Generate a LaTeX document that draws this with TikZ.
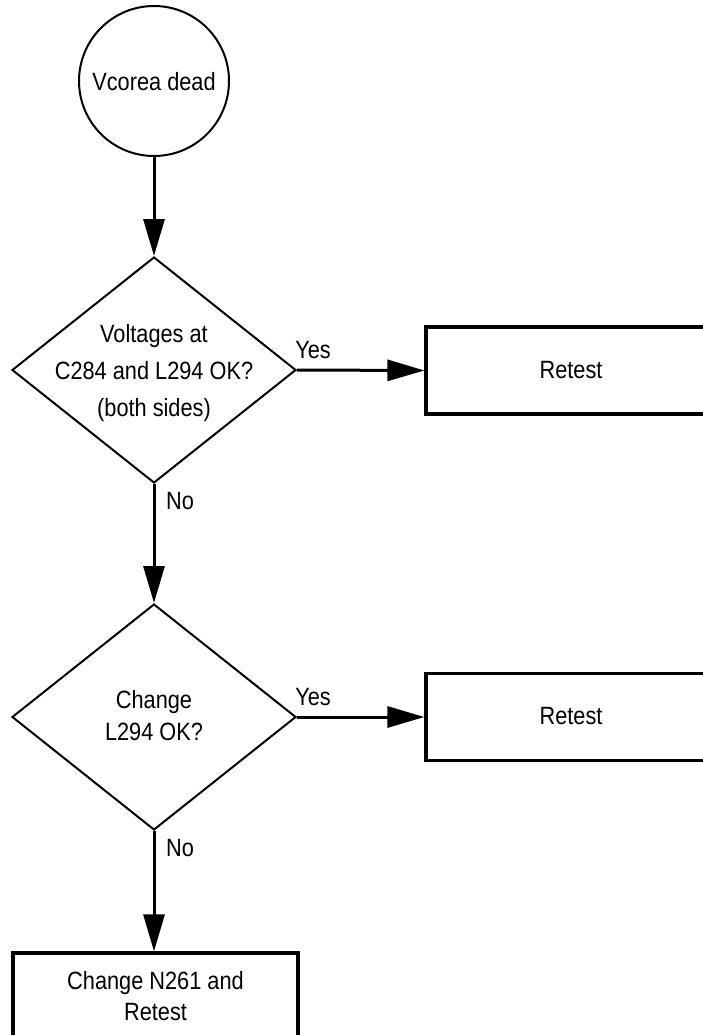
\documentclass[tikz,border=0pt]{standalone}
\usepackage{fontspec}
\setmainfont{Liberation Sans}[FakeStretch=0.87]
\usetikzlibrary{shapes.geometric,arrows.meta}
\tikzset{
  start/.style={circle,draw,line width=2pt,minimum size=150pt,inner sep=0pt},
  decision/.style={diamond,draw,line width=2pt,minimum width=284pt,minimum height=226pt,inner sep=0pt},
  actbox/.style={rectangle,draw,line width=3.2pt,inner sep=0pt},
  txt/.style={align=center,inner sep=0pt,font=\fontsize{25}{31}\selectfont},
  lbl/.style={inner sep=0pt,font=\fontsize{25}{31}\selectfont},
  flow/.style={line width=3pt,-{Triangle[length=37pt,width=21pt]}}
}
\begin{document}
\begin{tikzpicture}[x=1pt,y=-1pt]
\useasboundingbox (0,0) rectangle (703,1035);
\clip (0,0) rectangle (703,1035);
\node[start] (s) at (154,81) {};
\node[txt] (st) at (154,82) {Vcorea dead};
\node[decision] (d1) at (154,370) {};
\node[txt,font=\fontsize{25}{37}\selectfont] (d1t) at (154,373) {Voltages at\\C284 and L294 OK?\\(both sides)};
\node[actbox,minimum width=290pt,minimum height=87pt] (r1) at (571,370.5) {};
\node[txt] (r1t) at (571,370) {Retest};
\node[decision] (d2) at (154,717) {};
\node[txt,font=\fontsize{25}{32}\selectfont] (d2t) at (154,716) {Change\\L294 OK?};
\node[actbox,minimum width=290pt,minimum height=87pt] (r2) at (571,717) {};
\node[txt] (r2t) at (571,716) {Retest};
\node[actbox,minimum width=285pt,minimum height=100pt] (r3) at (155.5,1003) {};
\node[txt] (r3t) at (155.5,996) {Change N261 and\\Retest};
\draw[flow] (s.south) -- (d1.north);
\draw[flow] (d1.east) -- (r1.west);
\draw[flow] (d1.south) -- (d2.north);
\draw[flow] (d2.east) -- (r2.west);
\draw[flow] (d2.south) -- (r3.north -| d2.south);
\node[lbl] (y1) at (313,350) {Yes};
\node[lbl] (y2) at (313,697) {Yes};
\node[lbl] (n1) at (180,501) {No};
\node[lbl] (n2) at (180,848) {No};
\end{tikzpicture}
\end{document}
